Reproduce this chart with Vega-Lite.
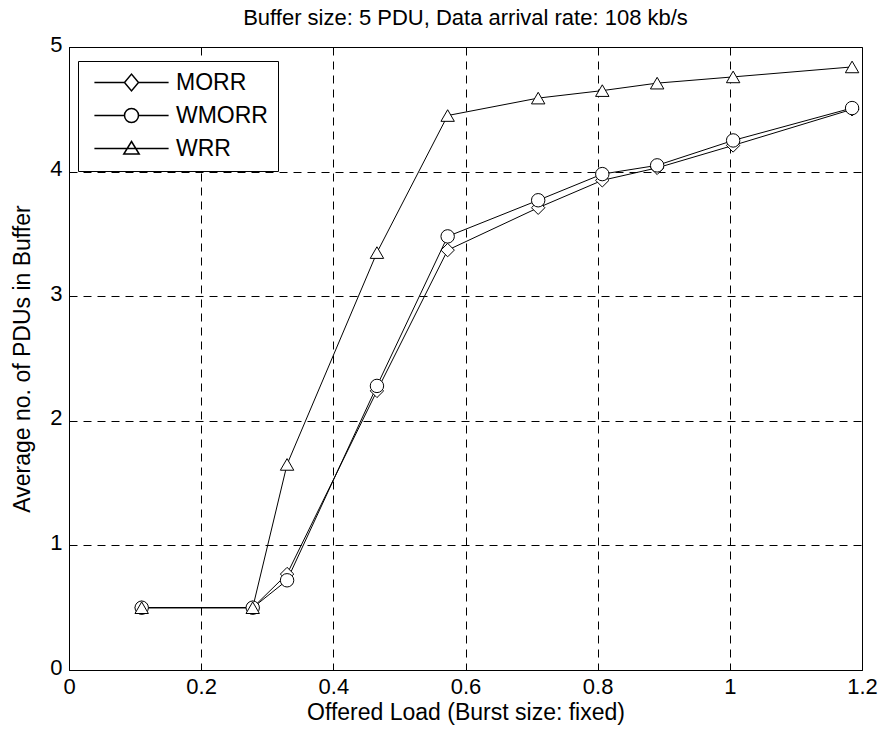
{
  "$schema": "https://vega.github.io/schema/vega-lite/v6.json",
  "width": 793,
  "height": 623,
  "autosize": {"type": "none"},
  "padding": {"left": 69, "top": 47, "right": 22, "bottom": 66},
  "background": "white",
  "title": {
    "text": "Buffer size: 5 PDU, Data arrival rate: 108 kb/s",
    "font": "Liberation Sans",
    "fontSize": 22,
    "fontWeight": "normal",
    "color": "black",
    "anchor": "middle",
    "offset": 3
  },
  "config": {
    "view": {"stroke": "black", "strokeWidth": 1},
    "axis": {
      "labelFont": "Liberation Sans",
      "titleFont": "Liberation Sans",
      "labelFontSize": 22,
      "titleFontSize": 23,
      "titleFontWeight": "normal",
      "labelColor": "black",
      "titleColor": "black",
      "domain": false,
      "tickColor": "black",
      "tickSize": -6,
      "grid": true,
      "gridColor": "black",
      "gridOpacity": 1,
      "gridDash": [8, 6],
      "gridWidth": 1
    }
  },
  "data": {
    "values": [
      {"load": 0.11, "pdus": 0.5, "scheme": "MORR"},
      {"load": 0.278, "pdus": 0.5, "scheme": "MORR"},
      {"load": 0.33, "pdus": 0.77, "scheme": "MORR"},
      {"load": 0.466, "pdus": 2.24, "scheme": "MORR"},
      {"load": 0.573, "pdus": 3.37, "scheme": "MORR"},
      {"load": 0.71, "pdus": 3.71, "scheme": "MORR"},
      {"load": 0.807, "pdus": 3.93, "scheme": "MORR"},
      {"load": 0.89, "pdus": 4.03, "scheme": "MORR"},
      {"load": 1.005, "pdus": 4.21, "scheme": "MORR"},
      {"load": 1.185, "pdus": 4.5, "scheme": "MORR"},
      {"load": 0.11, "pdus": 0.5, "scheme": "WMORR"},
      {"load": 0.278, "pdus": 0.5, "scheme": "WMORR"},
      {"load": 0.33, "pdus": 0.72, "scheme": "WMORR"},
      {"load": 0.466, "pdus": 2.28, "scheme": "WMORR"},
      {"load": 0.573, "pdus": 3.48, "scheme": "WMORR"},
      {"load": 0.71, "pdus": 3.77, "scheme": "WMORR"},
      {"load": 0.807, "pdus": 3.98, "scheme": "WMORR"},
      {"load": 0.89, "pdus": 4.05, "scheme": "WMORR"},
      {"load": 1.005, "pdus": 4.25, "scheme": "WMORR"},
      {"load": 1.185, "pdus": 4.51, "scheme": "WMORR"},
      {"load": 0.11, "pdus": 0.5, "scheme": "WRR"},
      {"load": 0.278, "pdus": 0.5, "scheme": "WRR"},
      {"load": 0.33, "pdus": 1.65, "scheme": "WRR"},
      {"load": 0.466, "pdus": 3.35, "scheme": "WRR"},
      {"load": 0.573, "pdus": 4.45, "scheme": "WRR"},
      {"load": 0.71, "pdus": 4.59, "scheme": "WRR"},
      {"load": 0.807, "pdus": 4.65, "scheme": "WRR"},
      {"load": 0.89, "pdus": 4.71, "scheme": "WRR"},
      {"load": 1.005, "pdus": 4.76, "scheme": "WRR"},
      {"load": 1.185, "pdus": 4.84, "scheme": "WRR"}
    ]
  },
  "encoding": {
    "x": {
      "field": "load",
      "type": "quantitative",
      "scale": {"domain": [0, 1.2], "nice": false, "zero": false},
      "axis": {"values": [0, 0.2, 0.4, 0.6, 0.8, 1, 1.2], "labelExpr": "'' + datum.value", "title": "Offered Load (Burst size: fixed)", "labelPadding": 12, "titlePadding": 4, "labelFlush": false}
    },
    "y": {
      "field": "pdus",
      "type": "quantitative",
      "scale": {"domain": [0, 5], "nice": false},
      "axis": {"values": [0, 1, 2, 3, 4, 5], "title": "Average no. of PDUs in Buffer", "labelPadding": 13, "labelOffset": -3, "titlePadding": 15, "labelFlush": false}
    }
  },
  "layer": [
    {
      "mark": {"type": "line", "color": "black", "strokeWidth": 1},
      "encoding": {"detail": {"field": "scheme"}}
    },
    {
      "mark": {"type": "point", "filled": true, "fill": "white", "stroke": "black", "strokeWidth": 1, "opacity": 1},
      "encoding": {
        "shape": {
          "field": "scheme",
          "type": "nominal",
          "scale": {"domain": ["MORR", "WMORR", "WRR"], "range": ["diamond", "circle", "triangle-up"]},
          "legend": null
        },
        "size": {"value": 180}
      }
    },
    {
      "mark": {"type": "point", "filled": false, "stroke": "black", "strokeWidth": 1, "opacity": 0},
      "encoding": {
        "shape": {
          "field": "scheme",
          "type": "nominal",
          "scale": {
            "domain": ["MORR", "WMORR", "WRR"],
            "range": [
              "M-5.3,0H-1L0,-1.2L1,0L0,1.2L-1,0M1,0H5.3",
              "M-5.3,0H-1A1,1,0,1,1,1,0A1,1,0,1,1,-1,0M1,0H5.3",
              "M-5.3,0H5.3M0,-1L1.1,0.8L-1.1,0.8Z"
            ]
          },
          "legend": {
            "title": null,
            "orient": "none",
            "legendX": 9,
            "legendY": 14,
            "direction": "vertical",
            "strokeColor": "black",
            "fillColor": "white",
            "padding": 10,
            "rowPadding": 9,
            "labelFont": "Liberation Sans",
            "labelFontSize": 23,
            "labelColor": "black",
            "symbolSize": 196,
            "symbolOffset": 32,
            "labelOffset": 33,
            "encode": {
              "symbols": {
                "update": {
                  "fill": {"value": "transparent"},
                  "stroke": {"value": "black"},
                  "strokeWidth": {"value": 1},
                  "opacity": {"value": 1}
                }
              }
            }
          }
        },
        "size": {"value": 180}
      }
    }
  ],
  "resolve": {"scale": {"shape": "independent"}}
}
